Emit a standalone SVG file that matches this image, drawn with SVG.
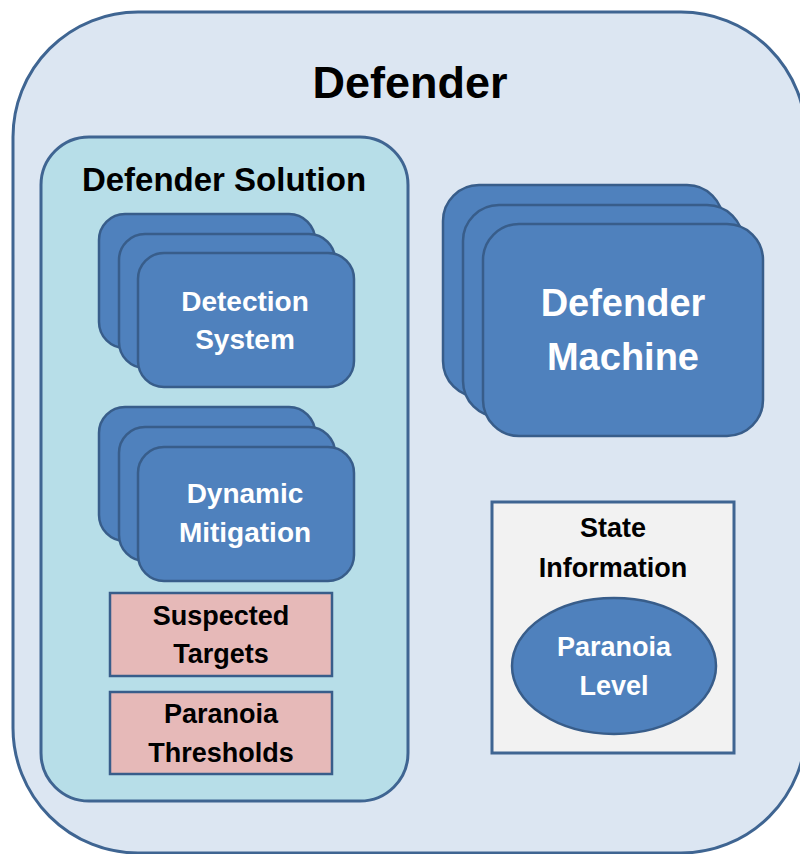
<svg xmlns="http://www.w3.org/2000/svg" width="800" height="854" viewBox="0 0 800 854">
<style>
text{font-family:"Liberation Sans",Arial,sans-serif;font-weight:bold;text-anchor:middle}
.blue{fill:#4F81BD;stroke:#385D8A;stroke-width:2.5}
.w{fill:#FFFFFF}
.k{fill:#000000}
.pink{fill:#E6B9B8;stroke:#385D8A;stroke-width:2.5}
</style>
<rect width="800" height="854" fill="#FFFFFF"/>
<g id="defender">
<rect x="13" y="12" width="793" height="841" rx="125" ry="125" fill="#DCE6F2" stroke="#3F6592" stroke-width="3"/>
<text x="410" y="98" font-size="45" class="k">Defender</text>
</g>
<g id="defender-solution">
<rect x="41" y="137" width="367" height="664" rx="48" ry="48" fill="#B7DEE8" stroke="#3F6592" stroke-width="3"/>
<text x="224" y="191" font-size="33" class="k">Defender Solution</text>
</g>
<g id="detection-system">
<rect class="blue" x="99" y="214" width="216" height="134" rx="26"/>
<rect class="blue" x="119" y="234" width="216" height="134" rx="26"/>
<rect class="blue" x="138" y="253" width="216" height="134" rx="26"/>
<text x="245" y="311" font-size="28" class="w">Detection</text>
<text x="245" y="349" font-size="28" class="w">System</text>
</g>
<g id="dynamic-mitigation">
<rect class="blue" x="99" y="407" width="216" height="134" rx="26"/>
<rect class="blue" x="119" y="427" width="216" height="134" rx="26"/>
<rect class="blue" x="138" y="447" width="216" height="134" rx="26"/>
<text x="245" y="503" font-size="28" class="w">Dynamic</text>
<text x="245" y="542" font-size="28" class="w">Mitigation</text>
</g>
<g id="suspected-targets">
<rect class="pink" x="110" y="593" width="222" height="83"/>
<text x="221" y="625" font-size="27" class="k">Suspected</text>
<text x="221" y="663" font-size="27" class="k">Targets</text>
</g>
<g id="paranoia-thresholds">
<rect class="pink" x="110" y="692" width="222" height="82"/>
<text x="221" y="723" font-size="27" class="k">Paranoia</text>
<text x="221" y="762" font-size="27" class="k">Thresholds</text>
</g>
<g id="defender-machine">
<rect class="blue" x="443" y="185" width="280" height="212" rx="36"/>
<rect class="blue" x="463" y="205" width="280" height="212" rx="36"/>
<rect class="blue" x="483" y="224" width="280" height="212" rx="36"/>
<text x="623" y="316" font-size="38" class="w">Defender</text>
<text x="623" y="370" font-size="38" class="w">Machine</text>
</g>
<g id="state-information">
<rect x="492" y="502" width="242" height="251" fill="#F2F2F2" stroke="#3F6592" stroke-width="3"/>
<text x="613" y="537" font-size="27" class="k">State</text>
<text x="613" y="577" font-size="27" class="k">Information</text>
</g>
<g id="paranoia-level">
<ellipse class="blue" cx="614" cy="666" rx="102" ry="68"/>
<text x="614" y="656" font-size="27" class="w">Paranoia</text>
<text x="614" y="695" font-size="27" class="w">Level</text>
</g>
<g id="connectors"></g>
</svg>
